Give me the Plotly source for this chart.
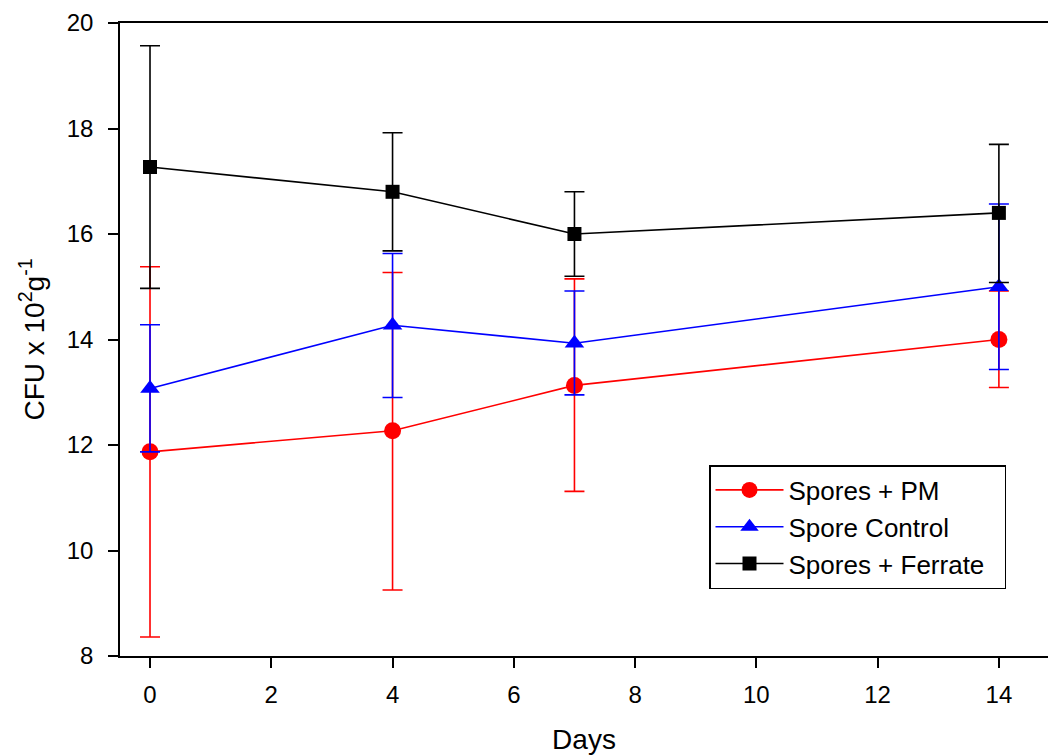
import plotly.graph_objects as go

days = [0, 4, 7, 14]

pm_mean = [11.87, 12.27, 13.13, 14.00]
pm_upper = [15.38, 15.27, 15.15, 14.92]
pm_lower = [8.36, 9.25, 11.12, 13.09]

ctrl_mean = [13.07, 14.27, 13.93, 15.00]
ctrl_upper = [14.28, 15.63, 14.92, 16.57]
ctrl_lower = [11.87, 12.90, 12.95, 13.43]

fer_mean = [17.27, 16.80, 16.00, 16.40]
fer_upper = [19.57, 17.92, 16.80, 17.70]
fer_lower = [14.97, 15.68, 15.20, 15.08]

series = [
    ("Spores + PM", pm_mean, pm_upper, pm_lower, "#ff0000", "circle", 17),
    ("Spore Control", ctrl_mean, ctrl_upper, ctrl_lower, "#0000ff", "triangle-up", 17),
    ("Spores + Ferrate", fer_mean, fer_upper, fer_lower, "#000000", "square", 14),
]

fig = go.Figure()
for name, m, up, lo, col, sym, sz in series:
    fig.add_trace(go.Scatter(
        x=days, y=m, name=name + "\u00a0\u00a0", mode="lines+markers",
        line=dict(color=col, width=1.6),
        marker=dict(color=col, symbol=sym, size=sz, line=dict(width=0)),
        error_y=dict(type="data", symmetric=False,
                     array=[u - v for u, v in zip(up, m)],
                     arrayminus=[v - l for v, l in zip(m, lo)],
                     color=col, thickness=1.6, width=10),
    ))

font = "Liberation Sans, Arial, sans-serif"
fig.update_layout(
    width=1048, height=756,
    margin=dict(l=120, r=0, t=23, b=100),
    plot_bgcolor="white", paper_bgcolor="white",
    font=dict(family=font, color="black", size=24),
    showlegend=True,
    legend=dict(x=0.6347, y=0.3017, xanchor="left", yanchor="top",
                bordercolor="black", borderwidth=1.5, bgcolor="white",
                font=dict(size=26), tracegroupgap=0, itemwidth=68),
    xaxis=dict(range=[-0.495, 14.81], tickvals=[0, 2, 4, 6, 8, 10, 12, 14],
               showline=True, linecolor="black", linewidth=1.5, mirror=True,
               ticks="outside", ticklen=10, tickwidth=1.5, tickcolor="black",
               ticklabelstandoff=6,
               showgrid=False, zeroline=False,
               title=dict(text="Days", font=dict(size=28), standoff=23),
               tickfont=dict(size=24)),
    yaxis=dict(range=[8, 20], tickvals=[8, 10, 12, 14, 16, 18, 20],
               showline=True, linecolor="black", linewidth=1.5, mirror=False,
               ticks="outside", ticklen=10, tickwidth=1.5, tickcolor="black",
               ticklabelstandoff=10,
               showgrid=False, zeroline=False,
               title=dict(text="CFU x 10<sup>2</sup>g<sup>-1</sup>", font=dict(size=28), standoff=14),
               tickfont=dict(size=24)),
)
fig.write_html("out.html", config={"displayModeBar": False},
               post_script="document.body.style.margin='0';document.body.style.overflow='hidden';")
